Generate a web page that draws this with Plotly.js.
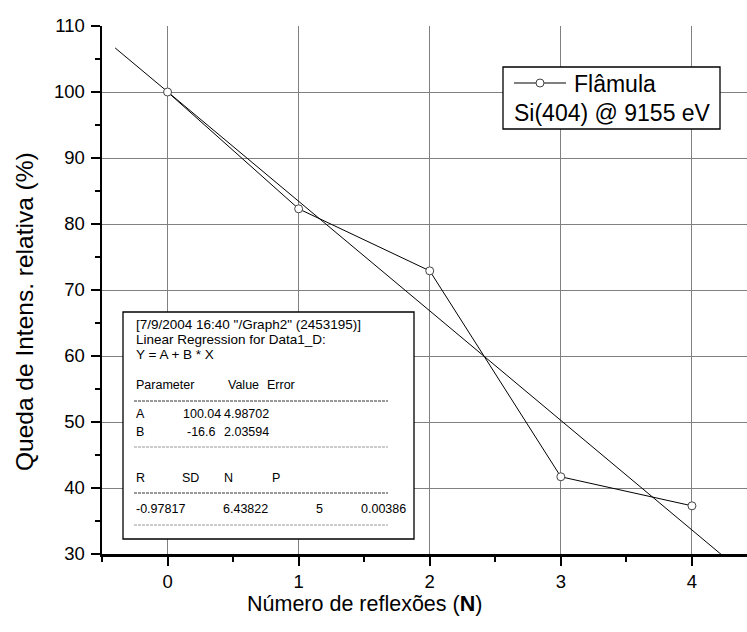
<!DOCTYPE html>
<html>
<head>
<meta charset="utf-8">
<script src="https://cdn.plot.ly/plotly-3.0.1.min.js"></script>
<style>
  html, body { margin: 0; padding: 0; background: #fff; }
  #chart { width: 747px; height: 632px; }
</style>
</head>
<body>
<div id="chart"></div>
<script>
// Measured intensity drop vs. number of reflections
const reflections = [0, 1, 2, 3, 4];
const intensityDrop = [100.0, 82.3, 72.9, 41.7, 37.3];

// Linear regression results Y = A + B * X
const fitA = 100.04;
const fitB = -16.6;
const fitXRange = [-0.4, 4.4];

const xTicks = [0, 1, 2, 3, 4];
const yTicks = [30, 40, 50, 60, 70, 80, 90, 100, 110];

const seriesName = 'Flâmula';
const seriesNote = 'Si(404) @ 9155 eV';

// Regression report rows: [text, left px, centre px]
const reportHeader = [
  ['[7/9/2004 16:40 "/Graph2" (2453195)]', 134, 324],
  ['Linear Regression for Data1_D:', 134, 339],
  ['Y = A + B * X', 134, 354]
];
const reportCells = [
  ['Parameter', 134, 385], ['Value', 226, 385], ['Error', 265, 385],
  ['A', 134, 414], ['100.04', 181, 414], ['4.98702', 222, 414],
  ['B', 134, 432], ['-16.6', 185, 432], ['2.03594', 222, 432],
  ['R', 134, 478], ['SD', 180, 478], ['N', 222, 478], ['P', 270, 478],
  ['-0.97817', 134, 509], ['6.43822', 221, 509], ['5', 314, 509], ['0.00386', 359, 509]
];
const reportRules = [[401, '#333'], [447, '#999'], [493, '#333'], [525, '#999']];

const W = 747, H = 632;
const M = { l: 102, r: 0, t: 26, b: 78 };
const PW = W - M.l - M.r, PH = H - M.t - M.b;
const px = x => (x - M.l) / PW;
const py = y => (H - M.b - y) / PH;

const FONT = 'Arial, "Liberation Sans", sans-serif';

const fitX = fitXRange.slice();
const fitY = fitX.map(x => fitA + fitB * x);

const traces = [
  {
    x: fitX, y: fitY, mode: 'lines', type: 'scatter',
    line: { color: '#000', width: 1 }, showlegend: false, hoverinfo: 'skip'
  },
  {
    x: reflections, y: intensityDrop, mode: 'lines+markers', type: 'scatter',
    name: seriesName, showlegend: false,
    line: { color: '#000', width: 1 },
    marker: { symbol: 'circle', size: 8, color: '#fff', line: { color: '#444', width: 1 } }
  }
];

const shapes = [];
const annotations = [];

// regression report panel
shapes.push({
  type: 'rect', xref: 'paper', yref: 'paper', layer: 'above',
  x0: px(123), x1: px(414), y0: py(539), y1: py(312),
  fillcolor: '#fff', line: { color: '#000', width: 1.3 }
});
reportRules.forEach(([y, c]) => shapes.push({
  type: 'line', xref: 'paper', yref: 'paper', layer: 'above',
  x0: px(134), x1: px(388), y0: py(y), y1: py(y),
  line: { color: c, width: 1, dash: '3px,1px' }
}));
reportHeader.forEach(([t, x, y]) => annotations.push({
  text: t, xref: 'paper', yref: 'paper', x: px(x), y: py(y),
  xanchor: 'left', yanchor: 'middle', showarrow: false,
  font: { family: FONT, size: 13.5, color: '#000' }
}));
reportCells.forEach(([t, x, y]) => annotations.push({
  text: t, xref: 'paper', yref: 'paper', x: px(x), y: py(y),
  xanchor: 'left', yanchor: 'middle', showarrow: false,
  font: { family: FONT, size: 12.5, color: '#000' }
}));

// legend panel
shapes.push({
  type: 'rect', xref: 'paper', yref: 'paper', layer: 'above',
  x0: px(503), x1: px(720), y0: py(129), y1: py(67),
  fillcolor: '#fff', line: { color: '#000', width: 1.3 }
});
shapes.push({
  type: 'line', xref: 'paper', yref: 'paper', layer: 'above',
  x0: px(514), x1: px(566), y0: py(83), y1: py(83),
  line: { color: '#000', width: 1 }
});
shapes.push({
  type: 'circle', xref: 'paper', yref: 'paper', layer: 'above',
  x0: px(536), x1: px(544), y0: py(87), y1: py(79),
  fillcolor: '#fff', line: { color: '#444', width: 1 }
});
annotations.push({
  text: seriesName, xref: 'paper', yref: 'paper', x: px(572), y: py(84),
  xanchor: 'left', yanchor: 'middle', showarrow: false,
  font: { family: FONT, size: 23, color: '#000' }
});
annotations.push({
  text: seriesNote, xref: 'paper', yref: 'paper', x: px(512), y: py(113),
  xanchor: 'left', yanchor: 'middle', showarrow: false,
  font: { family: FONT, size: 23, color: '#000' }
});

// axis titles
annotations.push({
  text: 'Número de reflexões (<b>N</b>)', xref: 'paper', yref: 'paper',
  x: px(364), y: py(604), xanchor: 'center', yanchor: 'middle', showarrow: false,
  font: { family: FONT, size: 21.5, color: '#000' }
});
annotations.push({
  text: 'Queda de Intens. relativa (%)', xref: 'paper', yref: 'paper',
  x: px(24), y: py(312), xanchor: 'center', yanchor: 'middle', showarrow: false,
  textangle: -90, font: { family: FONT, size: 24.5, color: '#000' }
});

const axisCommon = {
  showline: true, linecolor: '#000', linewidth: 2.5,
  ticks: 'outside', ticklen: 9, tickwidth: 2, tickcolor: '#000',
  showgrid: true, gridcolor: '#808080', gridwidth: 1,
  zeroline: false, tickfont: { family: FONT, size: 18.5, color: '#000' },
  fixedrange: true
};

const layout = {
  width: W, height: H,
  margin: M,
  paper_bgcolor: '#fff', plot_bgcolor: '#fff',
  showlegend: false, hovermode: false,
  font: { family: FONT, color: '#000' },
  xaxis: Object.assign({}, axisCommon, {
    range: [-0.5, 4.42], tickmode: 'array', tickvals: xTicks,
    minor: { ticks: 'outside', ticklen: 5, tickwidth: 2, tickcolor: '#000', dtick: 0.5, tick0: 0, showgrid: false }
  }),
  yaxis: Object.assign({}, axisCommon, {
    range: [30, 110], tickmode: 'array', tickvals: yTicks, ticklabelstandoff: 2,
    minor: { ticks: 'outside', ticklen: 5, tickwidth: 2, tickcolor: '#000', dtick: 5, tick0: 0, showgrid: false }
  }),
  shapes: shapes,
  annotations: annotations
};

Plotly.newPlot('chart', traces, layout, { staticPlot: true, displayModeBar: false });
</script>
</body>
</html>
